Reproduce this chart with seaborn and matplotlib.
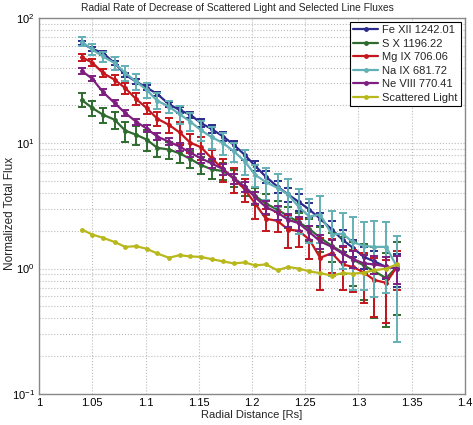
import numpy as np
import seaborn as sns
import matplotlib
matplotlib.use("Agg")
import matplotlib.pyplot as plt
from matplotlib.ticker import FixedLocator, FixedFormatter, LogLocator

# radial distance (Rs)
radius = [1.040, 1.050, 1.060, 1.071, 1.081, 1.091, 1.101, 1.111, 1.122, 1.132,
          1.142, 1.152, 1.162, 1.173, 1.183, 1.193, 1.203, 1.213, 1.224, 1.234,
          1.244, 1.254, 1.264, 1.275, 1.285, 1.295, 1.305, 1.315, 1.326, 1.336]

fe_xii = [62.9, 56.6, 52.3, 43.6, 35.1, 31.1, 27.8, 24.7, 20.5, 18.4,
          16.9, 14.5, 13.0, 11.3, 9.7, 8.1, 6.6, 5.4, 4.5, 3.9,
          3.4, 2.95, 2.5, 2.05, 1.70, 1.46, 1.24, 1.14, 1.03, 1.01]
fe_xii_err = [2.5, 2.3, 2.1, 1.8, 1.5, 1.3, 1.2, 1.1, 1.0, 1.0,
              1.0, 1.0, 0.9, 0.9, 0.8, 0.7, 0.6, 0.55, 0.5, 0.5,
              0.5, 0.4, 0.3, 0.34, 0.35, 0.22, 0.24, 0.23, 0.2, 0.3]

s_x = [22.2, 19.1, 16.9, 15.4, 12.6, 11.7, 10.7, 9.2, 8.9, 8.3,
       7.5, 6.7, 6.2, 6.0, 5.3, 4.5, 3.8, 3.3, 2.95, 2.62,
       2.34, 2.07, 1.76, 1.52, 1.35, 1.18, 1.06, 0.95, 0.84, 1.03]
s_x_err = [2.8, 2.5, 2.3, 2.3, 2.3, 2.0, 2.0, 1.5, 1.4, 1.3,
           1.2, 1.0, 1.0, 0.9, 0.8, 0.7, 0.6, 0.6, 0.5, 0.5,
           0.45, 0.4, 0.4, 0.4, 0.45, 0.45, 0.5, 0.55, 0.5, 0.6]

mg_ix = [48.6, 44.0, 36.3, 32.1, 27.5, 22.6, 19.1, 15.7, 14.0, 12.2,
         10.1, 9.3, 7.6, 6.2, 5.2, 4.3, 3.3, 2.5, 2.4, 2.05,
         2.0, 1.70, 1.22, 1.33, 1.08, 1.03, 0.93, 0.81, 0.77, 1.03]
mg_ix_err = [3.0, 3.0, 2.8, 2.8, 2.6, 2.4, 2.0, 1.9, 1.9, 2.5,
             1.8, 2.0, 1.3, 1.3, 1.2, 0.9, 0.8, 0.5, 0.45, 0.6,
             0.5, 0.5, 0.55, 0.4, 0.4, 0.38, 0.4, 0.4, 0.4, 0.35]

na_ix = [64.7, 56.0, 49.2, 43.6, 36.3, 31.1, 26.7, 21.8, 19.6, 17.0,
         14.9, 12.7, 11.2, 10.0, 8.6, 7.2, 5.6, 4.9, 4.4, 3.9,
         3.1, 2.6, 2.7, 1.87, 1.9, 1.62, 1.52, 1.49, 1.49, 1.04]
na_ix_err = [5.5, 5.5, 4.5, 5.5, 5.0, 4.3, 3.7, 3.2, 2.3, 2.8,
             2.4, 2.3, 2.2, 2.0, 1.5, 1.6, 1.1, 1.4, 1.3, 1.3,
             1.2, 1.0, 1.1, 1.0, 0.9, 0.95, 0.85, 0.9, 0.85, 0.78]

ne_viii = [37.8, 32.7, 25.6, 20.9, 17.4, 14.9, 13.1, 11.3, 10.3, 9.4,
           8.4, 7.6, 6.9, 6.2, 5.2, 4.5, 3.7, 3.1, 2.8, 2.45,
           2.3, 1.95, 1.65, 1.49, 1.32, 1.19, 1.10, 1.08, 1.04, 1.0]
ne_viii_err = [2.0, 1.6, 1.3, 1.1, 0.9, 0.8, 0.8, 0.7, 0.7, 0.7,
               0.6, 0.6, 0.6, 0.6, 0.5, 0.45, 0.4, 0.35, 0.35, 0.3,
               0.3, 0.25, 0.22, 0.2, 0.2, 0.18, 0.18, 0.18, 0.2, 0.25]

scattered = [2.05, 1.87, 1.76, 1.63, 1.49, 1.51, 1.44, 1.32, 1.22, 1.28,
             1.25, 1.24, 1.19, 1.14, 1.10, 1.12, 1.06, 1.08, 0.97, 1.03,
             1.0, 0.95, 0.92, 0.88, 0.92, 0.91, 0.93, 0.97, 1.0, 1.08]

labels = ["Fe XII 1242.01", "S X 1196.22", "Mg IX 706.06",
          "Na IX 681.72", "Ne VIII 770.41", "Scattered Light"]
colors = ["#2b2b8c", "#2f6b2f", "#c4161c", "#62b0b5", "#7e1f80", "#b8b81c"]

sns.set_style("white")
plt.rcParams['font.family'] = ['Liberation Sans', 'DejaVu Sans']

fig = plt.figure(figsize=(4.73, 4.25), dpi=100)
ax = fig.add_axes([0.0825, 0.073, 0.9005, 0.885])

series = [(fe_xii, fe_xii_err), (s_x, s_x_err), (mg_ix, mg_ix_err),
          (na_ix, na_ix_err), (ne_viii, ne_viii_err), (scattered, None)]

for (vals, err), lab, col in zip(series, labels, colors):
    if err is not None:
        ax.errorbar(radius, vals, yerr=err, fmt='none', ecolor=col,
                    elinewidth=1.4, capsize=3, capthick=1.4)
    sns.lineplot(x=radius, y=vals, color=col, marker='o', markersize=3.5,
                 markeredgewidth=0, linewidth=1.6, label=lab, ax=ax)

ax.set_yscale('log')
ax.set_xlim(1, 1.4)
ax.set_ylim(0.1, 100)

xt = [1, 1.05, 1.1, 1.15, 1.2, 1.25, 1.3, 1.35, 1.4]
ax.xaxis.set_major_locator(FixedLocator(xt))
ax.xaxis.set_major_formatter(FixedFormatter(["1", "1.05", "1.1", "1.15", "1.2",
                                             "1.25", "1.3", "1.35", "1.4"]))
ax.yaxis.set_minor_locator(LogLocator(base=10, subs=np.arange(2, 10)))

ax.grid(True, which='major', linestyle=':', color='#bbbbbb', linewidth=0.8)
ax.grid(True, which='minor', axis='y', linestyle=':', color='#bbbbbb', linewidth=0.8)
ax.tick_params(which='both', direction='in', labelsize=8, colors='#888888',
               labelcolor='black', pad=3)
ax.tick_params(which='major', length=4)
ax.tick_params(which='minor', length=2)
for sp in ax.spines.values():
    sp.set_color('#888888')
    sp.set_linewidth(1.0)

ax.set_title("Radial Rate of Decrease of Scattered Light and Selected Line Fluxes",
             fontsize=7.4, pad=5, x=0.465)
ax.set_xlabel("Radial Distance [Rs]", fontsize=8, labelpad=1)
ax.set_ylabel("Normalized Total Flux", fontsize=8.5)
ax.yaxis.set_label_coords(-0.055, 0.48)

leg = ax.legend(loc='upper right', fontsize=8, frameon=True, fancybox=False,
                edgecolor='black', framealpha=1, handlelength=2.2,
                labelspacing=0.32, borderpad=0.3, borderaxespad=0.35,
                handletextpad=0.4)
leg.get_frame().set_linewidth(0.8)

fig.savefig("out.png", dpi=100)
